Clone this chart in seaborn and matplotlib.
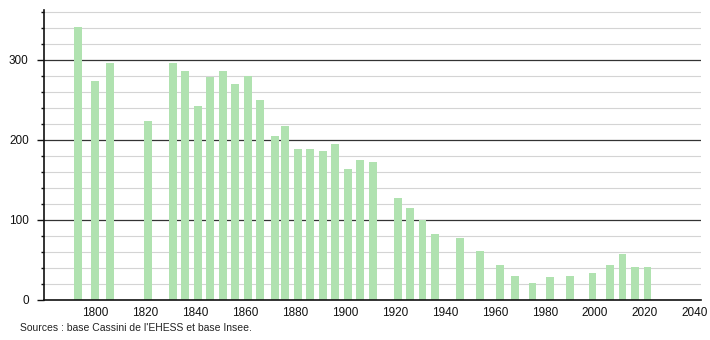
import matplotlib
matplotlib.use("Agg")
import matplotlib.pyplot as plt
import seaborn as sns
import pandas as pd
from matplotlib.ticker import MultipleLocator

years = [1793, 1800, 1806, 1821, 1831, 1836, 1841, 1846, 1851, 1856, 1861, 1866,
         1872, 1876, 1881, 1886, 1891, 1896, 1901, 1906, 1911, 1921, 1926, 1931,
         1936, 1946, 1954, 1962, 1968, 1975, 1982, 1990, 1999, 2006, 2011, 2016, 2021]
population = [341, 273, 296, 223, 296, 286, 242, 278, 286, 270, 279, 250,
              205, 217, 189, 188, 186, 195, 164, 175, 172, 127, 115, 100,
              82, 77, 61, 44, 30, 21, 29, 30, 34, 44, 57, 41, 41]
y_ticks = [0, 100, 200, 300]
x_ticks = list(range(1800, 2041, 20))
source_text = "Sources : base Cassini de l'EHESS et base Insee."

sns.set_theme(style="white")
plt.rcParams['font.family'] = ['Liberation Sans', 'DejaVu Sans']

df = pd.DataFrame({"year": years, "pop": population})
fig = plt.figure(figsize=(7.1, 3.4), dpi=100)
ax = fig.add_axes([44/710, 1 - 300/340, (701 - 44)/710, 290/340])

for v in range(20, 361, 20):
    if v % 100 == 0:
        ax.axhline(v, color="#333333", lw=0.9, zorder=0)
    else:
        ax.axhline(v, color="#d4d4d4", lw=0.8, zorder=0)

sns.barplot(data=df, x="year", y="pop", native_scale=True, width=0.8,
            color="#b0e2b0", saturation=1, linewidth=0, ax=ax, zorder=2)

ax.set_xlim(1779.6, 2042.4)
ax.set_ylim(0, 362)
ax.set_xticks(x_ticks)
ax.set_xticklabels([str(x) for x in x_ticks])
ax.set_yticks(y_ticks)
ax.set_yticklabels([str(y) for y in y_ticks])
ax.yaxis.set_minor_locator(MultipleLocator(20))
ax.tick_params(axis="x", length=0, labelsize=8.5, pad=5, colors="#111111")
ax.tick_params(axis="y", which="major", length=5, width=1, labelsize=8.5, pad=6,
               colors="#111111", left=True)
ax.tick_params(axis="y", which="minor", length=2, width=1, color="#111111", left=True)
ax.set_xlabel("")
ax.set_ylabel("")
for s in ["top", "right"]:
    ax.spines[s].set_visible(False)
for s in ["left", "bottom"]:
    ax.spines[s].set_color("#111111")
    ax.spines[s].set_linewidth(1.2)
ax.spines["bottom"].set_zorder(3)

fig.text(20/710, 1 - 328/340, source_text, fontsize=7.5, color="#222222", va="center")

fig.savefig("out.png", dpi=100)
